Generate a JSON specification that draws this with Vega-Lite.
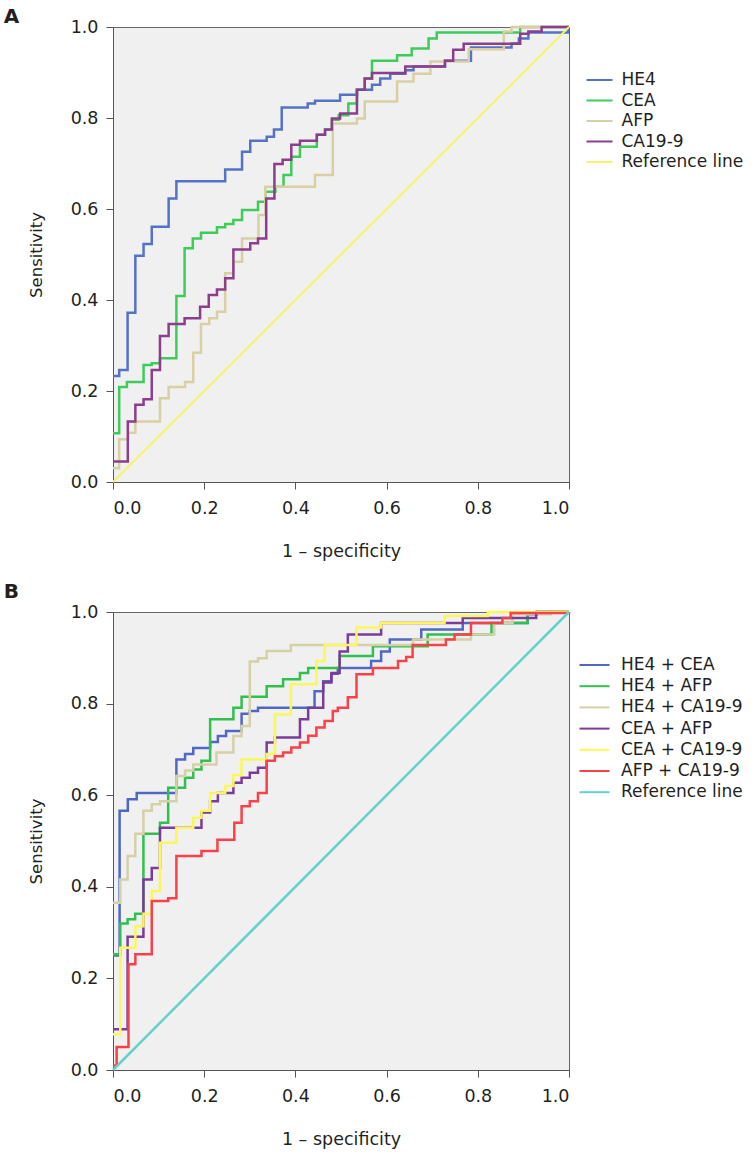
{
  "$schema": "https://vega.github.io/schema/vega-lite/v6.json",
  "background": "white",
  "padding": {"left": 3, "top": 6, "right": 5, "bottom": 5},
  "spacing": 20,
  "config": {
    "font": "DejaVu Sans",
    "view": {"fill": "#f0f0f0", "stroke": "#666", "strokeWidth": 1},
    "axis": {"grid": false, "labelFont": "DejaVu Sans", "titleFont": "DejaVu Sans", "labelFontSize": 17.5, "labelColor": "#231f20", "titleColor": "#231f20", "titleFontWeight": "normal", "titleFontSize": 16.5, "tickSize": 7, "tickColor": "#555", "domainColor": "#555"},
    "axisX": {"labelPadding": 10, "titlePadding": 26, "titleFontSize": 17.5},
    "axisY": {"labelPadding": 8, "titlePadding": 25.5},
    "legend": {"orient": "none", "title": null, "symbolStrokeWidth": 2, "labelFontSize": 17, "labelFont": "DejaVu Sans", "labelColor": "#231f20", "padding": 0},
    "title": {"anchor": "start", "frame": "bounds", "fontSize": 20, "fontWeight": "bold", "color": "#231f20", "offset": 0}
  },
  "resolve": {"scale": {"color": "independent"}, "legend": {"color": "independent"}},
  "datasets": {
    "a": [
      {"s": "HE4", "x": 0, "y": 0.233}, {"s": "HE4", "x": 0.0136, "y": 0.246}, {"s": "HE4", "x": 0.032, "y": 0.372}, {"s": "HE4", "x": 0.049, "y": 0.497}, {"s": "HE4", "x": 0.067, "y": 0.523}, {"s": "HE4", "x": 0.085, "y": 0.561}, {"s": "HE4", "x": 0.122, "y": 0.623}, {"s": "HE4", "x": 0.139, "y": 0.661}, {"s": "HE4", "x": 0.246, "y": 0.687}, {"s": "HE4", "x": 0.283, "y": 0.726}, {"s": "HE4", "x": 0.301, "y": 0.75}, {"s": "HE4", "x": 0.337, "y": 0.759}, {"s": "HE4", "x": 0.353, "y": 0.775}, {"s": "HE4", "x": 0.37, "y": 0.823}, {"s": "HE4", "x": 0.427, "y": 0.832}, {"s": "HE4", "x": 0.443, "y": 0.838}, {"s": "HE4", "x": 0.498, "y": 0.851}, {"s": "HE4", "x": 0.535, "y": 0.862}, {"s": "HE4", "x": 0.568, "y": 0.873}, {"s": "HE4", "x": 0.586, "y": 0.887}, {"s": "HE4", "x": 0.608, "y": 0.897}, {"s": "HE4", "x": 0.641, "y": 0.905}, {"s": "HE4", "x": 0.659, "y": 0.913}, {"s": "HE4", "x": 0.728, "y": 0.926}, {"s": "HE4", "x": 0.785, "y": 0.955}, {"s": "HE4", "x": 0.874, "y": 0.964}, {"s": "HE4", "x": 0.89, "y": 0.975}, {"s": "HE4", "x": 0.911, "y": 0.988}, {"s": "HE4", "x": 0.998, "y": 1.0}, {"s": "HE4", "x": 1, "y": 1.0},
      {"s": "CEA", "x": 0, "y": 0.107}, {"s": "CEA", "x": 0.0136, "y": 0.209}, {"s": "CEA", "x": 0.0305, "y": 0.22}, {"s": "CEA", "x": 0.067, "y": 0.257}, {"s": "CEA", "x": 0.085, "y": 0.261}, {"s": "CEA", "x": 0.103, "y": 0.272}, {"s": "CEA", "x": 0.139, "y": 0.409}, {"s": "CEA", "x": 0.157, "y": 0.514}, {"s": "CEA", "x": 0.175, "y": 0.535}, {"s": "CEA", "x": 0.193, "y": 0.548}, {"s": "CEA", "x": 0.228, "y": 0.56}, {"s": "CEA", "x": 0.246, "y": 0.567}, {"s": "CEA", "x": 0.264, "y": 0.576}, {"s": "CEA", "x": 0.283, "y": 0.598}, {"s": "CEA", "x": 0.318, "y": 0.616}, {"s": "CEA", "x": 0.334, "y": 0.638}, {"s": "CEA", "x": 0.356, "y": 0.649}, {"s": "CEA", "x": 0.374, "y": 0.675}, {"s": "CEA", "x": 0.391, "y": 0.715}, {"s": "CEA", "x": 0.41, "y": 0.737}, {"s": "CEA", "x": 0.447, "y": 0.763}, {"s": "CEA", "x": 0.465, "y": 0.774}, {"s": "CEA", "x": 0.48, "y": 0.796}, {"s": "CEA", "x": 0.495, "y": 0.806}, {"s": "CEA", "x": 0.516, "y": 0.832}, {"s": "CEA", "x": 0.535, "y": 0.862}, {"s": "CEA", "x": 0.552, "y": 0.887}, {"s": "CEA", "x": 0.568, "y": 0.926}, {"s": "CEA", "x": 0.623, "y": 0.938}, {"s": "CEA", "x": 0.655, "y": 0.953}, {"s": "CEA", "x": 0.692, "y": 0.975}, {"s": "CEA", "x": 0.71, "y": 0.988}, {"s": "CEA", "x": 0.893, "y": 1.0}, {"s": "CEA", "x": 1, "y": 1.0},
      {"s": "AFP", "x": 0, "y": 0.03}, {"s": "AFP", "x": 0.0136, "y": 0.094}, {"s": "AFP", "x": 0.033, "y": 0.108}, {"s": "AFP", "x": 0.049, "y": 0.133}, {"s": "AFP", "x": 0.103, "y": 0.184}, {"s": "AFP", "x": 0.122, "y": 0.209}, {"s": "AFP", "x": 0.158, "y": 0.22}, {"s": "AFP", "x": 0.176, "y": 0.284}, {"s": "AFP", "x": 0.193, "y": 0.347}, {"s": "AFP", "x": 0.211, "y": 0.36}, {"s": "AFP", "x": 0.228, "y": 0.374}, {"s": "AFP", "x": 0.246, "y": 0.459}, {"s": "AFP", "x": 0.264, "y": 0.484}, {"s": "AFP", "x": 0.283, "y": 0.535}, {"s": "AFP", "x": 0.319, "y": 0.587}, {"s": "AFP", "x": 0.334, "y": 0.649}, {"s": "AFP", "x": 0.443, "y": 0.675}, {"s": "AFP", "x": 0.482, "y": 0.788}, {"s": "AFP", "x": 0.535, "y": 0.799}, {"s": "AFP", "x": 0.552, "y": 0.836}, {"s": "AFP", "x": 0.623, "y": 0.88}, {"s": "AFP", "x": 0.659, "y": 0.897}, {"s": "AFP", "x": 0.696, "y": 0.924}, {"s": "AFP", "x": 0.78, "y": 0.951}, {"s": "AFP", "x": 0.857, "y": 0.99}, {"s": "AFP", "x": 0.874, "y": 1.0}, {"s": "AFP", "x": 1, "y": 1.0},
      {"s": "CA19-9", "x": 0, "y": 0.045}, {"s": "CA19-9", "x": 0.0325, "y": 0.133}, {"s": "CA19-9", "x": 0.049, "y": 0.17}, {"s": "CA19-9", "x": 0.067, "y": 0.182}, {"s": "CA19-9", "x": 0.085, "y": 0.246}, {"s": "CA19-9", "x": 0.103, "y": 0.321}, {"s": "CA19-9", "x": 0.122, "y": 0.347}, {"s": "CA19-9", "x": 0.157, "y": 0.36}, {"s": "CA19-9", "x": 0.191, "y": 0.385}, {"s": "CA19-9", "x": 0.21, "y": 0.411}, {"s": "CA19-9", "x": 0.228, "y": 0.423}, {"s": "CA19-9", "x": 0.246, "y": 0.448}, {"s": "CA19-9", "x": 0.264, "y": 0.511}, {"s": "CA19-9", "x": 0.301, "y": 0.525}, {"s": "CA19-9", "x": 0.318, "y": 0.535}, {"s": "CA19-9", "x": 0.336, "y": 0.623}, {"s": "CA19-9", "x": 0.354, "y": 0.699}, {"s": "CA19-9", "x": 0.372, "y": 0.708}, {"s": "CA19-9", "x": 0.391, "y": 0.741}, {"s": "CA19-9", "x": 0.41, "y": 0.75}, {"s": "CA19-9", "x": 0.447, "y": 0.763}, {"s": "CA19-9", "x": 0.465, "y": 0.775}, {"s": "CA19-9", "x": 0.48, "y": 0.799}, {"s": "CA19-9", "x": 0.498, "y": 0.81}, {"s": "CA19-9", "x": 0.535, "y": 0.862}, {"s": "CA19-9", "x": 0.552, "y": 0.887}, {"s": "CA19-9", "x": 0.568, "y": 0.899}, {"s": "CA19-9", "x": 0.641, "y": 0.913}, {"s": "CA19-9", "x": 0.728, "y": 0.926}, {"s": "CA19-9", "x": 0.746, "y": 0.95}, {"s": "CA19-9", "x": 0.769, "y": 0.963}, {"s": "CA19-9", "x": 0.893, "y": 0.985}, {"s": "CA19-9", "x": 0.911, "y": 0.99}, {"s": "CA19-9", "x": 0.94, "y": 1.0}, {"s": "CA19-9", "x": 1, "y": 1.0},
      {"s": "Reference line", "x": 0, "y": 0}, {"s": "Reference line", "x": 1, "y": 1}
    ],
    "b": [
      {"s": "HE4 + CEA", "x": 0, "y": 0.25}, {"s": "HE4 + CEA", "x": 0.0145, "y": 0.566}, {"s": "HE4 + CEA", "x": 0.0325, "y": 0.591}, {"s": "HE4 + CEA", "x": 0.052, "y": 0.605}, {"s": "HE4 + CEA", "x": 0.139, "y": 0.678}, {"s": "HE4 + CEA", "x": 0.158, "y": 0.69}, {"s": "HE4 + CEA", "x": 0.176, "y": 0.703}, {"s": "HE4 + CEA", "x": 0.213, "y": 0.716}, {"s": "HE4 + CEA", "x": 0.23, "y": 0.729}, {"s": "HE4 + CEA", "x": 0.248, "y": 0.74}, {"s": "HE4 + CEA", "x": 0.282, "y": 0.778}, {"s": "HE4 + CEA", "x": 0.3, "y": 0.784}, {"s": "HE4 + CEA", "x": 0.318, "y": 0.791}, {"s": "HE4 + CEA", "x": 0.442, "y": 0.827}, {"s": "HE4 + CEA", "x": 0.461, "y": 0.849}, {"s": "HE4 + CEA", "x": 0.479, "y": 0.865}, {"s": "HE4 + CEA", "x": 0.493, "y": 0.878}, {"s": "HE4 + CEA", "x": 0.566, "y": 0.893}, {"s": "HE4 + CEA", "x": 0.588, "y": 0.914}, {"s": "HE4 + CEA", "x": 0.607, "y": 0.94}, {"s": "HE4 + CEA", "x": 0.676, "y": 0.962}, {"s": "HE4 + CEA", "x": 0.767, "y": 0.976}, {"s": "HE4 + CEA", "x": 0.909, "y": 0.995}, {"s": "HE4 + CEA", "x": 0.93, "y": 1.0}, {"s": "HE4 + CEA", "x": 1, "y": 1.0},
      {"s": "HE4 + AFP", "x": 0, "y": 0.253}, {"s": "HE4 + AFP", "x": 0.016, "y": 0.32}, {"s": "HE4 + AFP", "x": 0.032, "y": 0.329}, {"s": "HE4 + AFP", "x": 0.0486, "y": 0.341}, {"s": "HE4 + AFP", "x": 0.0667, "y": 0.516}, {"s": "HE4 + AFP", "x": 0.103, "y": 0.54}, {"s": "HE4 + AFP", "x": 0.121, "y": 0.616}, {"s": "HE4 + AFP", "x": 0.158, "y": 0.638}, {"s": "HE4 + AFP", "x": 0.176, "y": 0.656}, {"s": "HE4 + AFP", "x": 0.194, "y": 0.675}, {"s": "HE4 + AFP", "x": 0.213, "y": 0.766}, {"s": "HE4 + AFP", "x": 0.264, "y": 0.791}, {"s": "HE4 + AFP", "x": 0.282, "y": 0.815}, {"s": "HE4 + AFP", "x": 0.337, "y": 0.838}, {"s": "HE4 + AFP", "x": 0.373, "y": 0.853}, {"s": "HE4 + AFP", "x": 0.41, "y": 0.867}, {"s": "HE4 + AFP", "x": 0.428, "y": 0.878}, {"s": "HE4 + AFP", "x": 0.497, "y": 0.904}, {"s": "HE4 + AFP", "x": 0.57, "y": 0.925}, {"s": "HE4 + AFP", "x": 0.69, "y": 0.951}, {"s": "HE4 + AFP", "x": 0.83, "y": 0.976}, {"s": "HE4 + AFP", "x": 0.909, "y": 0.995}, {"s": "HE4 + AFP", "x": 0.93, "y": 1.0}, {"s": "HE4 + AFP", "x": 1, "y": 1.0},
      {"s": "HE4 + CA19-9", "x": 0, "y": 0.365}, {"s": "HE4 + CA19-9", "x": 0.016, "y": 0.416}, {"s": "HE4 + CA19-9", "x": 0.032, "y": 0.467}, {"s": "HE4 + CA19-9", "x": 0.049, "y": 0.516}, {"s": "HE4 + CA19-9", "x": 0.0667, "y": 0.566}, {"s": "HE4 + CA19-9", "x": 0.085, "y": 0.58}, {"s": "HE4 + CA19-9", "x": 0.103, "y": 0.587}, {"s": "HE4 + CA19-9", "x": 0.139, "y": 0.642}, {"s": "HE4 + CA19-9", "x": 0.158, "y": 0.654}, {"s": "HE4 + CA19-9", "x": 0.176, "y": 0.667}, {"s": "HE4 + CA19-9", "x": 0.227, "y": 0.693}, {"s": "HE4 + CA19-9", "x": 0.264, "y": 0.729}, {"s": "HE4 + CA19-9", "x": 0.282, "y": 0.751}, {"s": "HE4 + CA19-9", "x": 0.3, "y": 0.892}, {"s": "HE4 + CA19-9", "x": 0.318, "y": 0.899}, {"s": "HE4 + CA19-9", "x": 0.337, "y": 0.915}, {"s": "HE4 + CA19-9", "x": 0.39, "y": 0.928}, {"s": "HE4 + CA19-9", "x": 0.658, "y": 0.94}, {"s": "HE4 + CA19-9", "x": 0.785, "y": 0.951}, {"s": "HE4 + CA19-9", "x": 0.836, "y": 0.976}, {"s": "HE4 + CA19-9", "x": 0.876, "y": 0.995}, {"s": "HE4 + CA19-9", "x": 0.96, "y": 1.0}, {"s": "HE4 + CA19-9", "x": 1, "y": 1.0},
      {"s": "CEA + AFP", "x": 0, "y": 0.089}, {"s": "CEA + AFP", "x": 0.032, "y": 0.291}, {"s": "CEA + AFP", "x": 0.0667, "y": 0.416}, {"s": "CEA + AFP", "x": 0.085, "y": 0.441}, {"s": "CEA + AFP", "x": 0.103, "y": 0.529}, {"s": "CEA + AFP", "x": 0.194, "y": 0.562}, {"s": "CEA + AFP", "x": 0.213, "y": 0.587}, {"s": "CEA + AFP", "x": 0.23, "y": 0.605}, {"s": "CEA + AFP", "x": 0.264, "y": 0.627}, {"s": "CEA + AFP", "x": 0.282, "y": 0.638}, {"s": "CEA + AFP", "x": 0.3, "y": 0.649}, {"s": "CEA + AFP", "x": 0.318, "y": 0.66}, {"s": "CEA + AFP", "x": 0.337, "y": 0.715}, {"s": "CEA + AFP", "x": 0.355, "y": 0.726}, {"s": "CEA + AFP", "x": 0.41, "y": 0.766}, {"s": "CEA + AFP", "x": 0.428, "y": 0.791}, {"s": "CEA + AFP", "x": 0.461, "y": 0.846}, {"s": "CEA + AFP", "x": 0.479, "y": 0.867}, {"s": "CEA + AFP", "x": 0.497, "y": 0.914}, {"s": "CEA + AFP", "x": 0.515, "y": 0.951}, {"s": "CEA + AFP", "x": 0.588, "y": 0.976}, {"s": "CEA + AFP", "x": 0.767, "y": 0.987}, {"s": "CEA + AFP", "x": 0.928, "y": 1.0}, {"s": "CEA + AFP", "x": 1, "y": 1.0},
      {"s": "CEA + CA19-9", "x": 0, "y": 0.078}, {"s": "CEA + CA19-9", "x": 0.016, "y": 0.267}, {"s": "CEA + CA19-9", "x": 0.049, "y": 0.314}, {"s": "CEA + CA19-9", "x": 0.0667, "y": 0.341}, {"s": "CEA + CA19-9", "x": 0.085, "y": 0.391}, {"s": "CEA + CA19-9", "x": 0.103, "y": 0.496}, {"s": "CEA + CA19-9", "x": 0.139, "y": 0.529}, {"s": "CEA + CA19-9", "x": 0.176, "y": 0.551}, {"s": "CEA + CA19-9", "x": 0.194, "y": 0.566}, {"s": "CEA + CA19-9", "x": 0.213, "y": 0.605}, {"s": "CEA + CA19-9", "x": 0.246, "y": 0.62}, {"s": "CEA + CA19-9", "x": 0.264, "y": 0.644}, {"s": "CEA + CA19-9", "x": 0.282, "y": 0.678}, {"s": "CEA + CA19-9", "x": 0.337, "y": 0.69}, {"s": "CEA + CA19-9", "x": 0.355, "y": 0.776}, {"s": "CEA + CA19-9", "x": 0.39, "y": 0.842}, {"s": "CEA + CA19-9", "x": 0.446, "y": 0.893}, {"s": "CEA + CA19-9", "x": 0.464, "y": 0.928}, {"s": "CEA + CA19-9", "x": 0.534, "y": 0.966}, {"s": "CEA + CA19-9", "x": 0.588, "y": 0.976}, {"s": "CEA + CA19-9", "x": 0.727, "y": 0.991}, {"s": "CEA + CA19-9", "x": 0.822, "y": 1.0}, {"s": "CEA + CA19-9", "x": 1, "y": 1.0},
      {"s": "AFP + CA19-9", "x": 0, "y": 0.01}, {"s": "AFP + CA19-9", "x": 0.008, "y": 0.05}, {"s": "AFP + CA19-9", "x": 0.034, "y": 0.231}, {"s": "AFP + CA19-9", "x": 0.049, "y": 0.253}, {"s": "AFP + CA19-9", "x": 0.085, "y": 0.369}, {"s": "AFP + CA19-9", "x": 0.121, "y": 0.375}, {"s": "AFP + CA19-9", "x": 0.139, "y": 0.467}, {"s": "AFP + CA19-9", "x": 0.194, "y": 0.478}, {"s": "AFP + CA19-9", "x": 0.229, "y": 0.503}, {"s": "AFP + CA19-9", "x": 0.266, "y": 0.54}, {"s": "AFP + CA19-9", "x": 0.282, "y": 0.576}, {"s": "AFP + CA19-9", "x": 0.3, "y": 0.587}, {"s": "AFP + CA19-9", "x": 0.318, "y": 0.605}, {"s": "AFP + CA19-9", "x": 0.337, "y": 0.675}, {"s": "AFP + CA19-9", "x": 0.355, "y": 0.685}, {"s": "AFP + CA19-9", "x": 0.373, "y": 0.693}, {"s": "AFP + CA19-9", "x": 0.391, "y": 0.704}, {"s": "AFP + CA19-9", "x": 0.41, "y": 0.715}, {"s": "AFP + CA19-9", "x": 0.428, "y": 0.73}, {"s": "AFP + CA19-9", "x": 0.446, "y": 0.748}, {"s": "AFP + CA19-9", "x": 0.464, "y": 0.762}, {"s": "AFP + CA19-9", "x": 0.482, "y": 0.784}, {"s": "AFP + CA19-9", "x": 0.493, "y": 0.791}, {"s": "AFP + CA19-9", "x": 0.515, "y": 0.814}, {"s": "AFP + CA19-9", "x": 0.534, "y": 0.864}, {"s": "AFP + CA19-9", "x": 0.57, "y": 0.878}, {"s": "AFP + CA19-9", "x": 0.625, "y": 0.893}, {"s": "AFP + CA19-9", "x": 0.643, "y": 0.902}, {"s": "AFP + CA19-9", "x": 0.657, "y": 0.928}, {"s": "AFP + CA19-9", "x": 0.73, "y": 0.94}, {"s": "AFP + CA19-9", "x": 0.749, "y": 0.951}, {"s": "AFP + CA19-9", "x": 0.785, "y": 0.976}, {"s": "AFP + CA19-9", "x": 0.854, "y": 0.987}, {"s": "AFP + CA19-9", "x": 0.872, "y": 0.998}, {"s": "AFP + CA19-9", "x": 1, "y": 1.0},
      {"s": "Reference line", "x": 0, "y": 0}, {"s": "Reference line", "x": 1, "y": 1}
    ]
  },
  "vconcat": [
    {
      "width": 456,
      "height": 455,
      "title": {"text": "A", "dx": -25, "dy": 13},
      "layer": [
        {
          "data": {"name": "a"},
          "transform": [{"filter": "datum.s !== 'Reference line'"}],
          "mark": {"type": "line", "interpolate": "step-after", "strokeWidth": 2.5},
          "encoding": {
            "x": {"field": "x", "type": "quantitative", "scale": {"domain": [0, 1], "nice": false}, "axis": {"title": "1 – specificity", "values": [0, 0.2, 0.4, 0.6, 0.8, 1], "format": ".1f"}},
            "y": {"field": "y", "type": "quantitative", "scale": {"domain": [0, 1], "nice": false}, "axis": {"title": "Sensitivity", "values": [0, 0.2, 0.4, 0.6, 0.8, 1], "format": ".1f"}},
            "color": {"field": "s", "type": "nominal", "sort": null, "scale": {"domain": ["HE4", "CEA", "AFP", "CA19-9", "Reference line"], "range": ["#5672c6", "#3dcc5a", "#d8d0a2", "#8c3d8c", "#f6f46a"]}, "legend": {"legendX": 475.5, "legendY": 42, "symbolType": "M-1.3,0H1.3", "symbolSize": 400, "labelOffset": 11, "rowPadding": 1.5}}
          }
        },
        {
          "data": {"name": "a"},
          "transform": [{"filter": "datum.s === 'Reference line'"}],
          "mark": {"type": "line", "strokeWidth": 2},
          "encoding": {
            "x": {"field": "x", "type": "quantitative"},
            "y": {"field": "y", "type": "quantitative"},
            "color": {"field": "s", "type": "nominal", "sort": null, "scale": {"domain": ["HE4", "CEA", "AFP", "CA19-9", "Reference line"], "range": ["#5672c6", "#3dcc5a", "#d8d0a2", "#8c3d8c", "#f6f46a"]}, "legend": {"legendX": 475.5, "legendY": 42, "symbolType": "M-1.3,0H1.3", "symbolSize": 400, "labelOffset": 11, "rowPadding": 1.5}}
          }
        }
      ]
    },
    {
      "width": 456,
      "height": 458,
      "title": {"text": "B", "dx": -25, "dy": 3},
      "layer": [
        {
          "data": {"name": "b"},
          "transform": [{"filter": "datum.s !== 'Reference line'"}],
          "mark": {"type": "line", "interpolate": "step-after", "strokeWidth": 2.5},
          "encoding": {
            "x": {"field": "x", "type": "quantitative", "scale": {"domain": [0, 1], "nice": false}, "axis": {"title": "1 – specificity", "values": [0, 0.2, 0.4, 0.6, 0.8, 1], "format": ".1f"}},
            "y": {"field": "y", "type": "quantitative", "scale": {"domain": [0, 1], "nice": false}, "axis": {"title": "Sensitivity", "values": [0, 0.2, 0.4, 0.6, 0.8, 1], "format": ".1f"}},
            "color": {"field": "s", "type": "nominal", "sort": null, "scale": {"domain": ["HE4 + CEA", "HE4 + AFP", "HE4 + CA19-9", "CEA + AFP", "CEA + CA19-9", "AFP + CA19-9", "Reference line"], "range": ["#5068c4", "#30c04c", "#d5d0a6", "#7a3c98", "#fbf75a", "#f8414a", "#62d2cb"]}, "legend": {"legendX": 470.5, "legendY": 42, "symbolType": "M-1.5,0H1.5", "symbolSize": 400, "labelOffset": 15.5, "rowPadding": 2.2}}
          }
        },
        {
          "data": {"name": "b"},
          "transform": [{"filter": "datum.s === 'Reference line'"}],
          "mark": {"type": "line", "strokeWidth": 2.5},
          "encoding": {
            "x": {"field": "x", "type": "quantitative"},
            "y": {"field": "y", "type": "quantitative"},
            "color": {"field": "s", "type": "nominal", "sort": null, "scale": {"domain": ["HE4 + CEA", "HE4 + AFP", "HE4 + CA19-9", "CEA + AFP", "CEA + CA19-9", "AFP + CA19-9", "Reference line"], "range": ["#5068c4", "#30c04c", "#d5d0a6", "#7a3c98", "#fbf75a", "#f8414a", "#62d2cb"]}, "legend": {"legendX": 470.5, "legendY": 42, "symbolType": "M-1.5,0H1.5", "symbolSize": 400, "labelOffset": 15.5, "rowPadding": 2.2}}
          }
        }
      ]
    }
  ]
}
